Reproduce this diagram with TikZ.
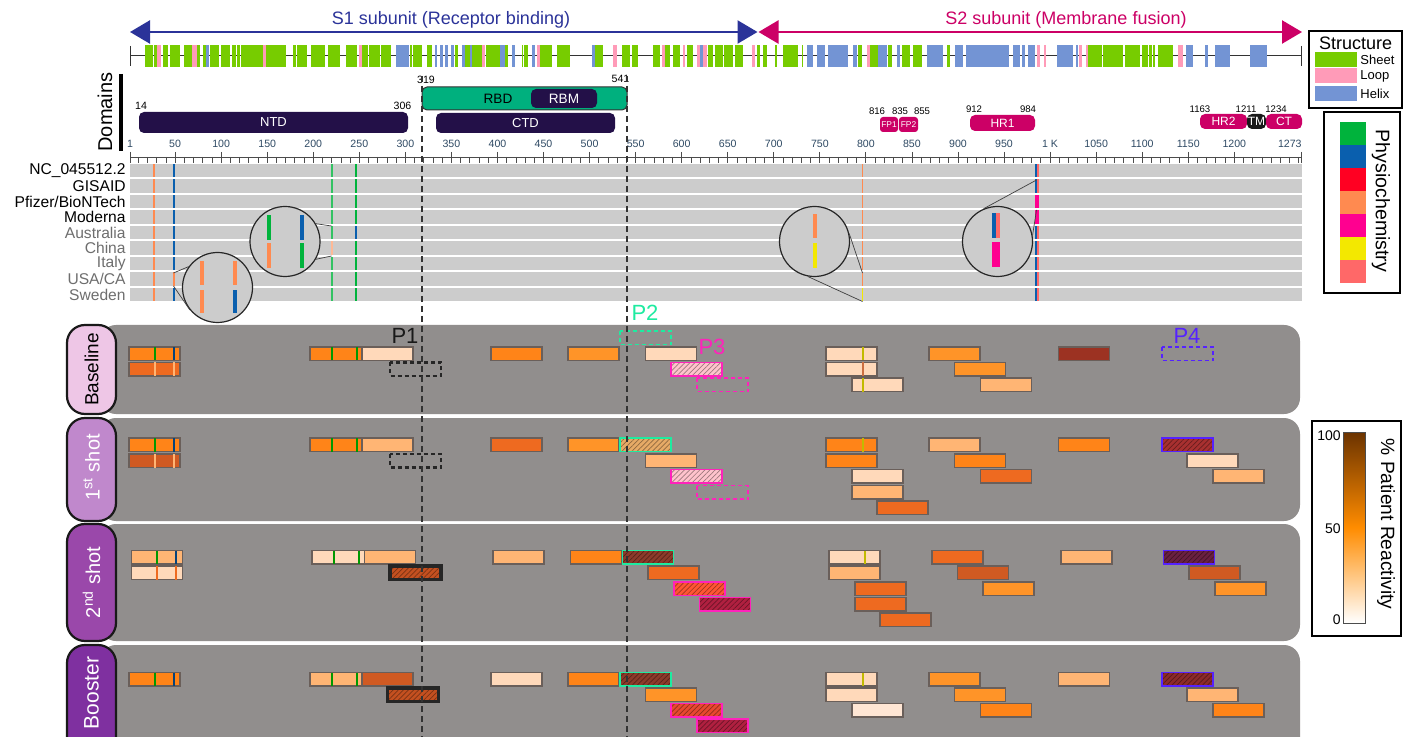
\documentclass[tikz,border=0pt]{standalone}
\usepackage{fontspec}
\setmainfont{Liberation Sans}
\usetikzlibrary{arrows.meta, positioning, calc, patterns.meta}

\definecolor{s1col}{HTML}{2B3399}
\definecolor{s2col}{HTML}{CC0066}
\definecolor{sheetcol}{HTML}{77CC00}
\definecolor{loopcol}{HTML}{FF9BB8}
\definecolor{helixcol}{HTML}{7394D4}
\definecolor{ntdcol}{HTML}{231048}
\definecolor{rbdcol}{HTML}{00B07E}
\definecolor{fpcol}{HTML}{CC0066}
\definecolor{axisblue}{HTML}{2F4A64}
\definecolor{rowgray}{HTML}{CCCCCC}
\definecolor{rowtext}{HTML}{6E6E6E}
\definecolor{phgreen}{HTML}{00B33C}
\definecolor{phblue}{HTML}{0A5FAE}
\definecolor{phred}{HTML}{FF0022}
\definecolor{phorange}{HTML}{FF8A50}
\definecolor{phmag}{HTML}{FF0090}
\definecolor{phyellow}{HTML}{F3E800}
\definecolor{phsalmon}{HTML}{FF6868}
\definecolor{panelgray}{HTML}{918E8D}
\definecolor{pepedge}{HTML}{6A5F5A}
\definecolor{pillA}{HTML}{EEC6E6}
\definecolor{pillB}{HTML}{C088CC}
\definecolor{pillC}{HTML}{9A48AA}
\definecolor{pillD}{HTML}{7F30A0}
\definecolor{p2col}{HTML}{1EEBA0}
\definecolor{p3col}{HTML}{FF22BB}
\definecolor{p4col}{HTML}{5522FF}
\definecolor{rcPale}{HTML}{FFE6D4}
\definecolor{rcPeach}{HTML}{FFD9BA}
\definecolor{rcLight}{HTML}{FFB574}
\definecolor{rcMid}{HTML}{FF9428}
\definecolor{rcOrange}{HTML}{FF8418}
\definecolor{rcDeep}{HTML}{EE6A20}
\definecolor{rcRust}{HTML}{D05A22}
\definecolor{rcBrown}{HTML}{9C3222}
\definecolor{hPink}{HTML}{FFC3CC}
\definecolor{hTan}{HTML}{E6AA66}
\definecolor{hRust}{HTML}{C45020}
\definecolor{hDark}{HTML}{8C3A2A}
\definecolor{hRed}{HTML}{FF5533}
\definecolor{hScarlet}{HTML}{E84830}
\definecolor{hCrimson}{HTML}{B02040}
\definecolor{hWine}{HTML}{A83030}
\definecolor{hPlum}{HTML}{6A2040}
\definecolor{hMaroon}{HTML}{8C2A2A}
\definecolor{cbTop}{HTML}{6B3300}
\definecolor{cbMid}{HTML}{FF8C00}

\newcommand{\fsz}[1]{\fontsize{#1}{#1}\selectfont}
% peptide box: x, top y, fill
\newcommand{\pep}[3]{\draw[pep, fill=#3] (#1,#2) rectangle ++(51,13.5);}
% hatched peptide box: x, top y, fill, border
\newcommand{\hpep}[4]{%
  \fill[#3] (#1,#2) rectangle ++(51,13.5);
  \fill[pattern={Lines[angle=45,distance=1.8pt,line width=0.35pt]}, pattern color=#3!62!black] (#1,#2) rectangle ++(51,13.5);
  \draw[#4, line width=0.75pt] (#1,#2) rectangle ++(51,13.5);}
% cut line inside a box: x, top y, colour
\newcommand{\pepcut}[3]{\draw[#3, line width=0.7pt] (#1,#2) -- ++(0,13.5);}
% variant mark in an alignment row: x, row, colour
\newcommand{\snv}[3]{\fill[#3] ({#1-0.8},{164+#2*15.5}) rectangle ++(1.6,13.5);}

\begin{document}
\begin{tikzpicture}[
    x=0.5pt, y=-0.5pt,
    declare function={rx(\r)=130+(\r-1)*0.921;},
    subarrow/.style={line width=1.2pt, {Triangle[length=10pt,width=11.5pt]}-{Triangle[length=10pt,width=11.5pt]}},
    dombox/.style={rectangle, rounded corners=2.5pt, inner sep=0pt, text=white, font=\fsz{6.5}},
    resnum/.style={inner sep=0pt, font=\fsz{5.3}},
    ticklab/.style={inner sep=0pt, font=\fsz{5.3}, text=axisblue},
    rowlab/.style={anchor=east, inner sep=0pt, font=\fsz{7.8}},
    lens/.style={circle, draw=black!85, line width=0.6pt, fill=rowgray, minimum size=35pt, inner sep=0pt},
    wedge/.style={draw=black!75, line width=0.35pt},
    pep/.style={draw=pepedge, line width=0.55pt},
    pillshape/.style={rounded corners=9pt, draw=black!90, line width=1.1pt},
    pilltext/.style={rotate=90, inner sep=0pt, font=\fsz{10}},
    plab/.style={inner sep=0pt, font=\fsz{11}},
    legbox/.style={draw=black, line width=1pt, inner sep=0pt},
    cutline/.style={dash pattern=on 3pt off 2pt, line width=0.6pt, draw=black!80},
]
\useasboundingbox (0,0) rectangle (1407,737);
\clip (0,0) rectangle (1407,737);
\fill[white] (0,0) rectangle (1407,737);

% Subunit arrows
\coordinate (s1a) at (130,32);
\coordinate (s1b) at (757.5,32);
\coordinate (s2a) at (758.5,32);
\coordinate (s2b) at (1302,32);
\draw[subarrow, s1col] (s1a) -- (s1b);
\draw[subarrow, s2col] (s2a) -- (s2b);
\node[font=\fsz{9}, text=s1col] (s1lab) at (451,20) {S1 subunit (Receptor binding)};
\node[font=\fsz{9}, text=s2col] (s2lab) at (1066,20) {S2 subunit (Membrane fusion)};

% Secondary structure
\draw[black!80, line width=0.5pt] (130,56) -- (1301,56);
\draw[black!80, line width=0.5pt] (130,46) -- (130,66) (1301,46) -- (1301,66);
\foreach \a/\b in {145/153,153.5/157,163/168,170/180,184/192,197/200,203/206,210/219,221/230,
    232/236,237/240,241/263,266/286,293/296,297/307,311/325,328/340,346/357,362/368,369/380,
    381/391,410/412,413/422,427/432,455/458,465/470,472/482,486/500,505/508,522/523,524/528,
    540/552,557/570,595/603,622/630,632/638,653/660,665/670,673/680,687/693,708/713,715/723,
    723.5/733,735/743,757/760,763/767,775/777,783/798,802/803,858/862,870/878,888/892,902/910,
    913/922,947/950,1088/1102,1103/1123,1125/1140,1142/1148,1149/1152,1153/1155,1158/1173}
  \fill[sheetcol] (\a,45) rectangle (\b,67);
\foreach \a/\b in {157/161,192/197,263/266,359/362,482/485,537/540,613/617,662/665,683/685,
    697/700,703/707,752/755,867/870,1037/1040,1044/1046,1079/1082,1086/1088,1178/1183}
  \fill[loopcol] (\a,45) rectangle (\b,67);
\foreach \a/\b in {206/209,396/409,435/437,440/443,445/448,451/454,462/465,470/472,500/505,
    512/515,532/535,592/595,700/703,807/813,817/825,828/848,853/857,878/887,897/900,927/943,
    955/963,966/1009,1013/1020,1022/1025,1028/1035,1057/1073,1076/1078,1186/1193,1205/1208,
    1215/1230,1250/1267}
  \fill[helixcol] (\a,45) rectangle (\b,67);

% Structure legend
\node[legbox, minimum width=46.5pt, minimum height=38.5pt] (strbox) at (1355.5,69.5) {};
\node[font=\fsz{9}, inner sep=0pt] (strtitle) at (1355.5,43) {Structure};
\fill[sheetcol] (1315,52) rectangle (1357,67);
\fill[loopcol] (1315,68.5) rectangle (1357,83);
\fill[helixcol] (1315,86) rectangle (1357,101);
\node[anchor=west, inner sep=0pt, font=\fsz{6.5}] (lsheet) at (1360,60) {Sheet};
\node[anchor=west, inner sep=0pt, font=\fsz{6.5}] (lloop) at (1360,76) {Loop};
\node[anchor=west, inner sep=0pt, font=\fsz{6.5}] (lhelix) at (1360,94) {Helix};

% Domains
\node[rotate=90, font=\fsz{10}] (domlab) at (105,112) {Domains};
\draw[line width=2.2pt] (121,74) -- (121,151);
\node[dombox, fill=ntdcol, minimum width=134.5pt, minimum height=10.5pt] (ntd) at (273.5,122.5) {NTD};
\node[dombox, fill=rbdcol, draw=black!80, line width=0.5pt, minimum width=102.5pt, minimum height=11.5pt] (rbd) at (524.5,98.5) {};
\node[inner sep=0pt, font=\fsz{6.8}] (rbdlab) at (498,98.5) {RBD};
\node[dombox, fill=ntdcol, minimum width=33pt, minimum height=9.5pt, font=\fsz{6.8}] (rbm) at (564,98.5) {RBM};
\node[dombox, fill=ntdcol, minimum width=89.5pt, minimum height=10pt] (ctd) at (525.5,123) {CTD};
\node[dombox, fill=fpcol, rounded corners=1.5pt, minimum width=9pt, minimum height=7.5pt, font=\fsz{4.2}] (fp1) at (889,124.5) {FP1};
\node[dombox, fill=fpcol, rounded corners=1.5pt, minimum width=9.5pt, minimum height=7.5pt, font=\fsz{4.2}] (fp2) at (908.5,124.5) {FP2};
\node[dombox, fill=fpcol, minimum width=32.5pt, minimum height=8pt, font=\fsz{6}] (hr1) at (1002.5,123) {HR1};
\node[dombox, fill=fpcol, minimum width=23.5pt, minimum height=7.5pt, font=\fsz{6}] (hr2) at (1223.5,121.5) {HR2};
\node[dombox, fill=black!90, minimum width=9.5pt, minimum height=7.5pt, font=\fsz{6}] (tm) at (1256.5,121.5) {TM};
\node[dombox, fill=fpcol, minimum width=18pt, minimum height=7.5pt, font=\fsz{6}] (ct) at (1284,121.5) {CT};

% Residue numbers of the domains
\node[resnum] (n14) at (141,106) {14};
\node[resnum] (n306) at (402.5,106) {306};
\node[resnum] (n319) at (426,80) {319};
\node[resnum] (n541) at (620.5,79) {541};
\node[resnum, font=\fsz{4.8}] (n816) at (877,111.5) {816};
\node[resnum, font=\fsz{4.8}] (n835) at (900,111.5) {835};
\node[resnum, font=\fsz{4.8}] (n855) at (922,111.5) {855};
\node[resnum, font=\fsz{4.8}] (n912) at (974,109.5) {912};
\node[resnum, font=\fsz{4.8}] (n984) at (1028,109.5) {984};
\node[resnum, font=\fsz{4.8}] (n1163) at (1200,109.5) {1163};
\node[resnum, font=\fsz{4.8}] (n1211) at (1246,109.5) {1211};
\node[resnum, font=\fsz{4.8}] (n1234) at (1276,109.5) {1234};

% Ruler
\draw[black!70, line width=0.4pt] (130,157) -- (1301.5,157);
\foreach \r in {10,20,...,1270}
  \draw[black!70, line width=0.4pt] ({rx(\r)},157) -- ({rx(\r)},163);
\foreach \r/\t in {1/1,50/50,100/100,150/150,200/200,250/250,300/300,350/350,400/400,450/450,
    500/500,550/550,600/600,650/650,700/700,750/750,800/800,850/850,900/900,950/950,
    1000/{1 K},1050/1050,1100/1100,1150/1150,1200/1200} {
  \draw[black!70, line width=0.4pt] ({rx(\r)},152) -- ({rx(\r)},163);
  \node[ticklab] (tk\r) at ({rx(\r)},144) {\t};
}
\draw[black!70, line width=0.4pt] (1301.5,152) -- (1301.5,163);
\node[ticklab, anchor=east] (tk1273) at (1302,144) {1273};

% Alignment rows
\foreach \i in {0,...,8}
  \fill[rowgray] (130,{164+\i*15.5}) rectangle (1302,{177.5+\i*15.5});
\node[rowlab] (rl0) at (126,170.75) {NC\_045512.2};
\node[rowlab] (rl1) at (126,186.25) {GISAID};
\node[rowlab] (rl2) at (126,201.75) {Pfizer/BioNTech};
\node[rowlab] (rl3) at (126,217.25) {Moderna};
\node[rowlab, text=rowtext] (rl4) at (126,232.75) {Australia};
\node[rowlab, text=rowtext] (rl5) at (126,248.25) {China};
\node[rowlab, text=rowtext] (rl6) at (126,263.75) {Italy};
\node[rowlab, text=rowtext] (rl7) at (126,279.25) {USA/CA};
\node[rowlab, text=rowtext] (rl8) at (126,294.75) {Sweden};

% Variant marks
\foreach \i in {0,...,8} {
  \snv{154}{\i}{phorange}
  \snv{174}{\i}{phblue}
  \snv{332}{\i}{phgreen!80}
  \snv{356}{\i}{phgreen}
  \snv{862.5}{\i}{phorange}
  \snv{1036}{\i}{phblue}
  \snv{1038}{\i}{phsalmon}
}
\snv{174}{7}{phorange}
\snv{332}{5}{phorange!60}
\snv{356}{4}{phblue}
\snv{862.5}{8}{phyellow}
\snv{1036}{2}{phmag} \snv{1038}{2}{phmag}
\snv{1036}{3}{phmag} \snv{1038}{3}{phmag}

% Magnified views
\node[lens] (lens1) at (217.5,287.5) {};
\fill[phorange] (200,261) rectangle ++(4,24);
\fill[phorange] (233,261) rectangle ++(4,24);
\fill[phorange] (200,290) rectangle ++(4,23);
\fill[phblue] (233,290) rectangle ++(4,23);
\coordinate (t1a) at (173.5,273);
\coordinate (t1b) at (173.5,286);
\draw[wedge] (lens1.144) -- (t1a);
\draw[wedge] (lens1.-141) -- (t1b);

\node[lens] (lens2) at (285,241.5) {};
\fill[phgreen] (267,215) rectangle ++(4,25);
\fill[phblue] (300,215) rectangle ++(4,25);
\fill[phorange] (267,243) rectangle ++(4,25);
\fill[phgreen] (300,243) rectangle ++(4,25);
\coordinate (t2a) at (331.5,226);
\coordinate (t2b) at (331.5,256);
\draw[wedge] (lens2.30) -- (t2a);
\draw[wedge] (lens2.-30) -- (t2b);

\node[lens] (lens3) at (814.5,241.5) {};
\fill[phorange] (813,214) rectangle ++(4,24);
\fill[phyellow] (813,243) rectangle ++(4,25);
\coordinate (t3a) at (862.5,273);
\coordinate (t3b) at (862.5,301.5);
\draw[wedge] (lens3.13) -- (t3a);
\draw[wedge] (lens3.-101) -- (t3b);

\node[lens] (lens4) at (997.5,241.5) {};
\fill[phblue] (992,213) rectangle ++(4,25);
\fill[phsalmon] (996,213) rectangle ++(4,25);
\fill[phmag] (992,242) rectangle ++(8,25);
\coordinate (t4a) at (1036.5,180);
\coordinate (t4b) at (1036.5,210);
\draw[wedge] (lens4.113) -- (t4a);
\draw[wedge] (lens4.10) -- (t4b);

% Physiochemistry legend
\node[legbox, minimum width=38pt, minimum height=90.5pt] (phybox) at (1362,202.5) {};
\foreach \c [count=\i from 0] in {phgreen,phblue,phred,phorange,phmag,phyellow,phsalmon}
  \fill[\c] (1340,{122+\i*23}) rectangle (1366,{145+\i*23});
\node[rotate=-90, inner sep=0pt, font=\fsz{9.8}] (phylab) at (1381,201) {Physiochemistry};

% Panels
\fill[panelgray, rounded corners=8pt] (100,325) rectangle (1300,414);
\fill[panelgray, rounded corners=8pt] (100,418) rectangle (1300,521);
\fill[panelgray, rounded corners=8pt] (100,524) rectangle (1300,641);
\fill[panelgray, rounded corners=8pt] (100,645) rectangle (1300,780);
\draw[pillshape, fill=pillA] (67,325) rectangle (116,414);
\draw[pillshape, fill=pillB] (67,418) rectangle (116,521);
\draw[pillshape, fill=pillC] (67,524) rectangle (116,641);
\draw[pillshape, fill=pillD] (67,645) rectangle (116,780);
\node[pilltext, font=\fsz{9.5}] (tbase) at (91.5,369.5) {Baseline};
\node[pilltext, text=white] (tfirst) at (91.5,467.5) {1\textsuperscript{st} shot};
\node[pilltext, text=white] (tsecond) at (91.5,582.5) {2\textsuperscript{nd} shot};
\node[pilltext, text=white, font=\fsz{10.5}] (tboost) at (91.5,693) {Booster};

% Peptide labels
\node[plab, text=black!90] (p1) at (405,336) {P1};
\node[plab, text=p2col] (p2) at (645,313) {P2};
\node[plab, text=p3col] (p3) at (712,347) {P3};
\node[plab, text=p4col] (p4) at (1187,336) {P4};

% Baseline
\pep{129}{347}{rcOrange} \pepcut{155}{347}{green!60!black} \pepcut{174}{347}{phblue!70!black}
\pep{129}{362.5}{rcDeep} \pepcut{155}{362.5}{rcLight} \pepcut{174}{362.5}{rcLight}
\draw[pep, fill=rcOrange] (310,347) rectangle ++(52,13.5);
\pepcut{332}{347}{green!60!black} \pepcut{357}{347}{green!60!black}
\pep{362}{347}{rcPeach}
\draw[black!85, line width=1.1pt, dash pattern=on 2pt off 1.5pt] (390,362.5) rectangle ++(51,13.5);
\pep{491}{347}{rcOrange}
\pep{568}{347}{rcMid}
\draw[p2col, line width=0.8pt, dash pattern=on 2pt off 1.5pt] (620,331) rectangle ++(51,13.5);
\pep{645.5}{347}{rcPeach}
\hpep{671}{362.5}{hPink}{p3col}
\draw[p3col, line width=0.7pt, dash pattern=on 2pt off 1.5pt] (697,378) rectangle ++(51,13.5);
\pep{826}{347}{rcPeach} \pepcut{863}{347}{phyellow!80!black}
\pep{826}{362.5}{rcPeach} \pepcut{863}{362.5}{phorange!80!black}
\pep{852}{378}{rcPeach} \pepcut{863}{378}{phyellow!80!black}
\pep{929}{347}{rcMid}
\pep{954.5}{362.5}{rcMid}
\pep{980.5}{378}{rcLight}
\pep{1058.5}{347}{rcBrown}
\draw[p4col, line width=0.7pt, dash pattern=on 2pt off 1.5pt] (1162,347) rectangle ++(51,13.5);

% 1st shot
\pep{129}{438}{rcOrange} \pepcut{155}{438}{green!60!black} \pepcut{174}{438}{phblue!70!black}
\pep{129}{454}{rcRust} \pepcut{155}{454}{rcLight} \pepcut{174}{454}{rcLight}
\draw[pep, fill=rcOrange] (310,438) rectangle ++(52,13.5);
\pepcut{332}{438}{green!60!black} \pepcut{357}{438}{green!60!black}
\pep{362}{438}{rcLight}
\draw[black!85, line width=1.1pt, dash pattern=on 2pt off 1.5pt] (390,454) rectangle ++(51,13.5);
\pep{491}{438}{rcDeep}
\pep{568}{438}{rcMid}
\hpep{620}{438}{hTan}{p2col}
\pep{645.5}{454}{rcLight}
\hpep{671}{469.5}{hPink}{p3col}
\draw[p3col, line width=0.7pt, dash pattern=on 2pt off 1.5pt] (697,485.5) rectangle ++(51,13.5);
\pep{826}{438}{rcOrange} \pepcut{863}{438}{phyellow!80!black}
\pep{826}{454}{rcOrange}
\pep{852}{469.5}{rcPeach}
\pep{852}{485.5}{rcLight}
\pep{877}{501}{rcDeep}
\pep{929}{438}{rcLight}
\pep{954.5}{454}{rcOrange}
\pep{980.5}{469.5}{rcDeep}
\pep{1058.5}{438}{rcOrange}
\hpep{1162}{438}{hWine}{p4col}
\pep{1187}{454}{rcPeach}
\pep{1213}{469.5}{rcLight}

% 2nd shot
\pep{131.5}{550.5}{rcLight} \pepcut{157}{550.5}{green!60!black} \pepcut{176}{550.5}{phblue!70!black}
\pep{131.5}{566}{rcPeach} \pepcut{157}{566}{rcDeep} \pepcut{176}{566}{rcDeep}
\draw[pep, fill=rcPeach] (312,550.5) rectangle ++(52.5,13.5);
\pepcut{334}{550.5}{green!60!black} \pepcut{359}{550.5}{green!60!black}
\pep{364.5}{550.5}{rcLight}
\hpep{390}{566}{hRust}{black!85}
\draw[black!85, line width=1.6pt] (390,566) rectangle ++(51,13.5);
\pep{493}{550.5}{rcLight}
\pep{570.5}{550.5}{rcOrange}
\hpep{622.5}{550.5}{hDark}{p2col}
\pep{648}{566}{rcDeep}
\hpep{674}{582}{hRed}{p3col}
\hpep{699.5}{597.5}{hCrimson}{p3col}
\pep{829}{550.5}{rcPeach} \pepcut{865}{550.5}{phyellow!80!black}
\pep{829}{566}{rcLight}
\pep{855}{582}{rcDeep}
\pep{855}{597.5}{rcDeep}
\pep{880}{613}{rcDeep}
\pep{932}{550.5}{rcDeep}
\pep{957.5}{566}{rcRust}
\pep{983}{582}{rcMid}
\pep{1061}{550.5}{rcLight}
\hpep{1163.5}{550.5}{hPlum}{p4col}
\pep{1189}{566}{rcRust}
\pep{1215}{582}{rcMid}

% Booster
\pep{129}{672.5}{rcOrange} \pepcut{155}{672.5}{green!60!black} \pepcut{174}{672.5}{phblue!70!black}
\draw[pep, fill=rcLight] (310,672.5) rectangle ++(52,13.5);
\pepcut{332}{672.5}{green!60!black} \pepcut{357}{672.5}{green!60!black}
\pep{362}{672.5}{rcRust}
\hpep{387.5}{688}{hRust}{black!85}
\draw[black!85, line width=1.6pt] (387.5,688) rectangle ++(51,13.5);
\pep{491}{672.5}{rcPeach}
\pep{568}{672.5}{rcOrange}
\hpep{620}{672.5}{hDark}{p2col}
\pep{645.5}{688}{rcMid}
\hpep{671}{703.5}{hScarlet}{p3col}
\hpep{697}{719}{hCrimson}{p3col}
\pep{826}{672.5}{rcPeach} \pepcut{863}{672.5}{phyellow!80!black}
\pep{826}{688}{rcPeach}
\pep{852}{703.5}{rcPale}
\pep{929}{672.5}{rcMid}
\pep{954.5}{688}{rcMid}
\pep{980.5}{703.5}{rcOrange}
\pep{1058.5}{672.5}{rcLight}
\hpep{1162}{672.5}{hMaroon}{p4col}
\pep{1187}{688}{rcLight}
\pep{1213}{703.5}{rcOrange}

% Reactivity legend
\node[legbox, minimum width=44.5pt, minimum height=107.5pt] (rcbox) at (1356.5,528.5) {};
\shade[top color=cbTop, bottom color=white, middle color=cbMid] (1343,432) rectangle (1365,623);
\draw[black!70, line width=0.4pt] (1343,432) rectangle (1365,623);
\node[anchor=east, inner sep=0pt, font=\fsz{7}] (cb100) at (1341,436) {100};
\node[anchor=east, inner sep=0pt, font=\fsz{7}] (cb50) at (1341,529) {50};
\node[anchor=east, inner sep=0pt, font=\fsz{7}] (cb0) at (1341,620) {0};
\node[rotate=-90, inner sep=0pt, font=\fsz{9.6}] (rclab) at (1386,524) {\% Patient Reactivity};

% RBD boundaries
\coordinate (c319a) at (422,76);
\coordinate (c319b) at (422,737);
\coordinate (c541a) at (627,76);
\coordinate (c541b) at (627,737);
\draw[cutline] (c319a) -- (c319b);
\draw[cutline] (c541a) -- (c541b);

\end{tikzpicture}
\end{document}
